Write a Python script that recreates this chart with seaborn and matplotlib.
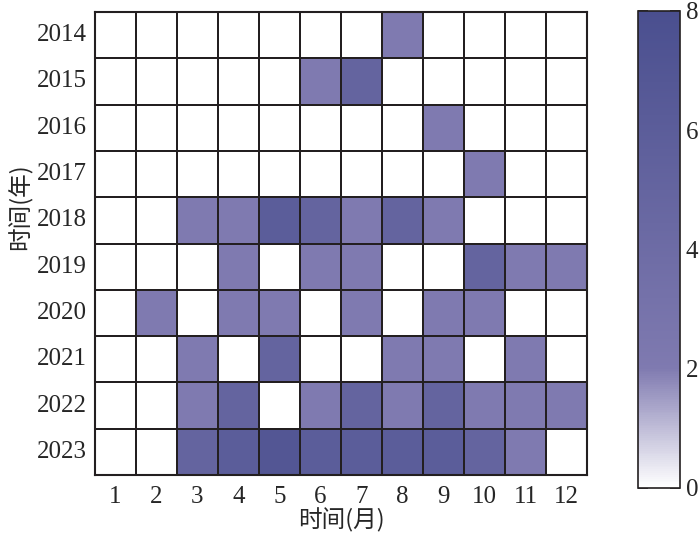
import numpy as np
import pandas as pd
import seaborn as sns
import matplotlib.pyplot as plt
from matplotlib.colors import LinearSegmentedColormap

# data
years = [2014, 2015, 2016, 2017, 2018, 2019, 2020, 2021, 2022, 2023]
months = [1, 2, 3, 4, 5, 6, 7, 8, 9, 10, 11, 12]
counts = [
    [0, 0, 0, 0, 0, 0, 0, 2, 0, 0, 0, 0],
    [0, 0, 0, 0, 0, 2, 5, 0, 0, 0, 0, 0],
    [0, 0, 0, 0, 0, 0, 0, 0, 2, 0, 0, 0],
    [0, 0, 0, 0, 0, 0, 0, 0, 0, 2, 0, 0],
    [0, 0, 2, 2, 6, 5, 2, 5, 2, 0, 0, 0],
    [0, 0, 0, 2, 0, 2, 2, 0, 0, 5, 2, 2],
    [0, 2, 0, 2, 2, 0, 2, 0, 2, 2, 0, 0],
    [0, 0, 2, 0, 5, 0, 0, 2, 2, 0, 2, 0],
    [0, 0, 2, 5, 0, 2, 5, 2, 5, 2, 2, 2],
    [0, 0, 5, 6, 7, 6, 6, 6, 6, 5, 2, 0],
]

df = pd.DataFrame(counts, index=years, columns=months)

sns.set_style("white")
plt.rcParams['font.family'] = ['Liberation Serif', 'Noto Sans CJK SC', 'DejaVu Sans']
plt.rcParams['font.size'] = 18

cmap = LinearSegmentedColormap.from_list(
    "purp", [(0.0, "#ffffff"), (0.25, "#7f7ab0"), (1.0, "#4a4f8f")])

fig = plt.figure(figsize=(7, 5.36), dpi=100)
ax = fig.add_axes([0.1357, 0.1138, 0.7029, 0.8638])
cax = fig.add_axes([0.9114, 0.0896, 0.06, 0.8899])

sns.heatmap(df, ax=ax, cbar_ax=cax, cmap=cmap, vmin=0, vmax=8,
            linewidths=1.2, linecolor="#231f20", square=False)

for sp in ax.spines.values():
    sp.set_visible(True)
    sp.set_linewidth(1.5)
    sp.set_color("#231f20")

ax.tick_params(axis='both', direction='in', length=4, width=1.2,
               color="#231f20", labelsize=18)
ax.tick_params(axis='x', pad=8)
ax.tick_params(axis='y', pad=6)
ax.set_yticklabels([str(y) for y in years], rotation=0)
ax.set_xticklabels([str(m) for m in months], rotation=0)
cjk = ['Noto Sans CJK SC', 'Liberation Serif']
ax.set_xlabel("时间(月)", fontsize=17, family=cjk, labelpad=0)
ax.set_ylabel("时间(年)", fontsize=17, family=cjk)
ax.yaxis.set_label_coords(-0.128, 0.58)

cbar = ax.collections[0].colorbar
cbar.set_ticks([0, 2, 4, 6, 8])
cbar.outline.set_visible(True)
cbar.outline.set_linewidth(1.2)
cbar.outline.set_edgecolor("#231f20")
cax.tick_params(axis='y', direction='in', length=7, width=1.2, left=True, right=True,
                color="#231f20", labelsize=18, pad=4)

fig.savefig("out.png", dpi=100)
